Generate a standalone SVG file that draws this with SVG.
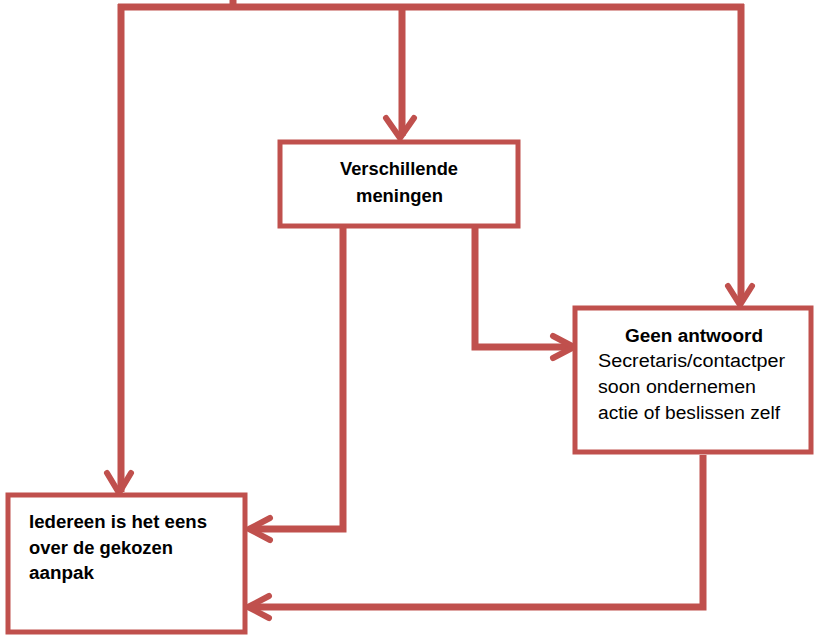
<svg xmlns="http://www.w3.org/2000/svg" width="817" height="637" viewBox="0 0 817 637">
<style>
.box{fill:#fff;stroke:#C0504D;stroke-width:5}
.ln{fill:none;stroke:#C0504D;stroke-width:7;stroke-linejoin:miter}
.ah{fill:none;stroke:#C0504D;stroke-width:6;stroke-linecap:round;stroke-linejoin:round}
text{font-family:"Liberation Sans",Arial,sans-serif;font-size:18px;fill:#000}
.b{font-weight:bold}
</style>
<rect width="817" height="637" fill="#fff"/>
<g id="connectors">
<path class="ln" d="M233 0 V7"/>
<path class="ln" d="M118 7 H744"/>
<path class="ln" d="M121 4 V492"/>
<path class="ah" d="M107 473 L119 493 L131 473"/>
<path class="ln" d="M402 7 V136"/>
<path class="ah" d="M386 118 L400 138 L414 118"/>
<path class="ln" d="M741 4 V302"/>
<path class="ah" d="M728 286 L740 305 L752 286"/>
<path class="ln" d="M475 228 V347 H572"/>
<path class="ah" d="M553 336 L574 347 L553 358"/>
<path class="ln" d="M343 228 V529 H251"/>
<path class="ah" d="M270 518 L249 529 L270 540"/>
<path class="ln" d="M703 455 V607 H251"/>
<path class="ah" d="M269 596 L248 607 L269 618"/>
</g>
<g id="node-verschillende">
<rect class="box" x="280" y="142" width="238" height="84"/>
<text class="b" x="340" y="175" textLength="118" lengthAdjust="spacingAndGlyphs">Verschillende</text>
<text class="b" x="356" y="202" textLength="87" lengthAdjust="spacingAndGlyphs">meningen</text>
</g>
<g id="node-geen-antwoord">
<rect class="box" x="575" y="308" width="236" height="144"/>
<text class="b" x="625" y="342" textLength="138" lengthAdjust="spacingAndGlyphs">Geen antwoord</text>
<text x="598" y="367" textLength="187" lengthAdjust="spacingAndGlyphs">Secretaris/contactper</text>
<text x="598" y="393" textLength="158" lengthAdjust="spacingAndGlyphs">soon ondernemen</text>
<text x="598" y="419" textLength="182" lengthAdjust="spacingAndGlyphs">actie of beslissen zelf</text>
</g>
<g id="node-iedereen">
<rect class="box" x="8" y="495" width="237" height="137"/>
<text class="b" x="29" y="528" textLength="178" lengthAdjust="spacingAndGlyphs">Iedereen is het eens</text>
<text class="b" x="29" y="554" textLength="144" lengthAdjust="spacingAndGlyphs">over de gekozen</text>
<text class="b" x="29" y="579" textLength="65" lengthAdjust="spacingAndGlyphs">aanpak</text>
</g>
</svg>
